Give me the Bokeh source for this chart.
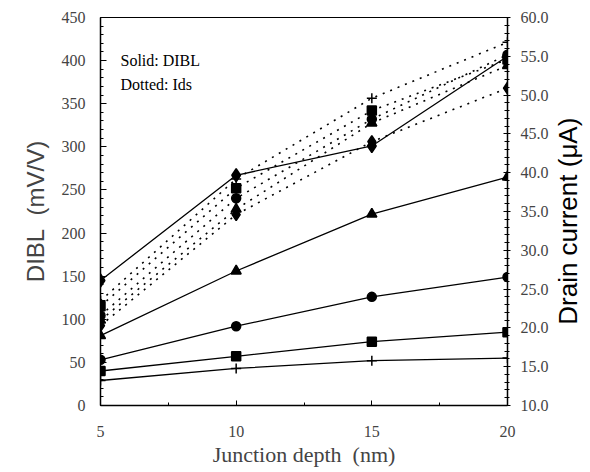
import math
from bokeh.plotting import figure
from bokeh.layouts import row
from bokeh.models import Range1d, LinearAxis, FixedTicker, NumeralTickFormatter, Label
from bokeh.embed import file_html
from bokeh.resources import INLINE

# Data
depth = [5, 10, 15, 20]

# DIBL (mV/V), solid lines
dibl_diamond = [145, 267, 301, 405]
dibl_triangle = [81, 156, 222, 265]
dibl_circle = [53, 92, 126, 149]
dibl_square = [40, 57, 74, 85]
dibl_plus = [29, 43, 52, 55]

# Drain current Ids (uA), dotted lines
ids_plus = [23.5, 39.2, 49.6, 56.8]
ids_square = [22.8, 38.0, 48.0, 54.6]
ids_circle = [21.6, 36.7, 46.9, 55.2]
ids_triangle = [21.0, 35.3, 46.4, 53.8]
ids_diamond = [20.3, 34.6, 44.0, 50.9]

left_ticks = [0, 50, 100, 150, 200, 250, 300, 350, 400, 450]
right_ticks = [10, 15, 20, 25, 30, 35, 40, 45, 50, 55, 60]
x_ticks = [5, 10, 15, 20]

SERIF = "Liberation Serif"
SANS = "Liberation Sans"

p = figure(width=552, height=472, output_backend="svg", toolbar_location=None,
           x_range=Range1d(5, 20), y_range=Range1d(0, 450))
p.min_border_left = 100
p.min_border_right = 45
p.min_border_top = 17
p.min_border_bottom = 67
p.xgrid.visible = False
p.ygrid.visible = False
p.outline_line_color = "black"
p.outline_line_width = 1
p.background_fill_color = "white"
p.border_fill_color = "white"

p.extra_y_ranges = {"ids": Range1d(10, 60)}

# Left axis
ya = p.yaxis[0]
ya.ticker = FixedTicker(ticks=left_ticks, minor_ticks=list(range(0, 451, 10)))
ya.axis_label = "DIBL\u00a0\u00a0(mV/V)"
ya.axis_label_text_font = SANS
ya.axis_label_text_font_size = "24px"
ya.axis_label_text_font_style = "normal"
ya.axis_label_standoff = 10
ya.major_label_text_font = SERIF
ya.major_label_text_font_size = "16px"
ya.major_label_standoff = 15
ya.major_tick_in = 6
ya.major_tick_out = 0
ya.minor_tick_in = 3
ya.minor_tick_out = 0
ya.axis_line_width = 1.5

# Bottom axis
xa = p.xaxis[0]
xa.ticker = FixedTicker(ticks=x_ticks, minor_ticks=[5, 7.5, 10, 12.5, 15, 17.5, 20])
xa.axis_label = "Junction depth\u00a0\u00a0(nm)"
xa.axis_label_text_font = SERIF
xa.axis_label_text_font_size = "22px"
xa.axis_label_text_font_style = "normal"
xa.axis_label_standoff = 2
xa.major_label_text_font = SERIF
xa.major_label_text_font_size = "16px"
xa.major_label_standoff = 20
xa.major_tick_in = 5
xa.major_tick_out = 0
xa.minor_tick_in = 3
xa.minor_tick_out = 0
xa.axis_line_width = 1.5

# Right axis (its title is drawn in a narrow side figure, reading bottom-to-top)
ra = LinearAxis(y_range_name="ids")
ra.ticker = FixedTicker(ticks=right_ticks, minor_ticks=list(range(10, 61, 1)))
ra.formatter = NumeralTickFormatter(format="0.0")
ra.major_label_text_font = SERIF
ra.major_label_text_font_size = "16px"
ra.major_label_standoff = 10
ra.major_tick_in = 4
ra.major_tick_out = 3
ra.minor_tick_in = 3
ra.minor_tick_out = 2
ra.axis_line_width = 1.5
p.add_layout(ra, "right")

# Solid DIBL lines
solid = [(dibl_diamond, "diamond", 13), (dibl_triangle, "triangle", 10),
         (dibl_circle, "circle", 9), (dibl_square, "square", 9), (dibl_plus, "cross", 10)]
for ys, mk, sz in solid:
    p.line(depth, ys, line_color="black", line_width=1.3)
    p.scatter(depth, ys, marker=mk, size=sz, fill_color="black", line_color="black", line_width=1.5)

# Dotted Ids lines
dotted = [(ids_plus, "cross", 10), (ids_square, "square", 9), (ids_circle, "circle", 9),
          (ids_triangle, "triangle", 10), (ids_diamond, "diamond", 12)]
for ys, mk, sz in dotted:
    p.line(depth, ys, line_color="black", line_width=1.6, line_dash="2 6", y_range_name="ids")
    p.scatter(depth, ys, marker=mk, size=sz, fill_color="black", line_color="black",
              line_width=1.5, y_range_name="ids")

p.add_layout(Label(x=20, y=337, x_units="screen", y_units="screen", text="Solid: DIBL",
                   text_font=SERIF, text_font_size="16px", text_color="black"))
p.add_layout(Label(x=20, y=313, x_units="screen", y_units="screen", text="Dotted: Ids",
                   text_font=SERIF, text_font_size="16px", text_color="black"))

# Narrow side figure holding the right-hand axis title
side = figure(width=38, height=472, output_backend="svg", toolbar_location=None,
              x_range=Range1d(0, 1), y_range=Range1d(0, 1))
side.min_border_left = 0
side.min_border_right = 0
side.min_border_top = 0
side.min_border_bottom = 0
side.axis.visible = False
side.grid.visible = False
side.outline_line_color = None
side.background_fill_color = "white"
side.border_fill_color = "white"
side.add_layout(Label(x=0.4, y=0.475, text="Drain current (\u03bcA)", angle=math.pi / 2,
                      text_align="center", text_baseline="middle",
                      text_font=SANS, text_font_size="26px", text_color="black"))

layout = row(p, side, spacing=0)
open("out.html", "w").write(file_html(layout, INLINE))
